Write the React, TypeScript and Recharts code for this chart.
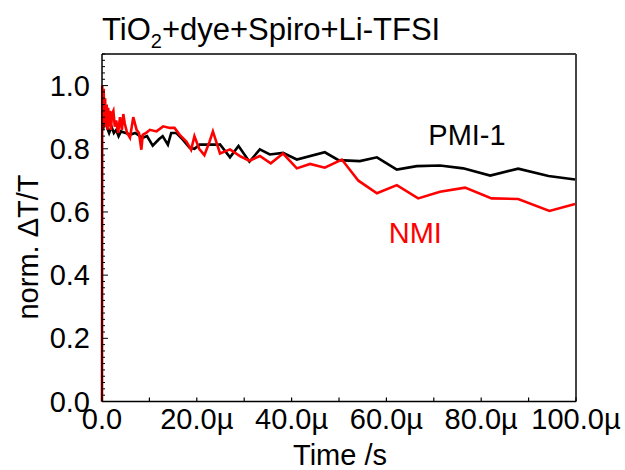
import { LineChart, Line, XAxis, YAxis, ReferenceLine, ReferenceDot, Label } from 'recharts';

// time in µs, normalised ΔT/T
const pmiTime = [0.2, 0.6, 1.0, 1.5, 2.0, 2.5, 3.0, 3.5, 4.0, 5.0, 6.0, 7.0, 8.0, 8.6, 9.5, 10.7, 12.0, 12.8, 13.9, 14.6, 15.7, 17.0, 18.5, 19.5, 20.6, 24.4, 24.9, 27.0, 28.8, 31.1, 33.3, 35.4, 38.2, 41.1, 47.0, 49.9, 54.4, 58.0, 62.2, 66.4, 71.3, 76.2, 81.9, 87.8, 94.2, 99.8];
const pmiValue = [0.86, 0.89, 0.87, 0.85, 0.87, 0.85, 0.86, 0.84, 0.855, 0.85, 0.845, 0.85, 0.84, 0.835, 0.84, 0.81, 0.83, 0.84, 0.813, 0.85, 0.85, 0.83, 0.803, 0.80, 0.813, 0.813, 0.814, 0.773, 0.809, 0.759, 0.798, 0.782, 0.787, 0.766, 0.789, 0.764, 0.761, 0.773, 0.734, 0.745, 0.747, 0.738, 0.715, 0.737, 0.714, 0.703];

const nmiTime = [0, 0.05, 0.2, 0.35, 0.5, 0.65, 0.8, 1.0, 1.15, 1.3, 1.5, 1.7, 1.9, 2.1, 2.4, 2.7, 3.0, 3.4, 3.8, 4.2, 4.5, 4.8, 5.3, 5.9, 6.6, 7.3, 7.8, 8.3, 8.6, 9.3, 10.1, 11.5, 12.9, 14.3, 15.3, 16.4, 17.8, 18.8, 19.5, 20.5, 21.6, 22.7, 23.4, 24.9, 27.0, 29.1, 31.1, 33.3, 35.6, 38.2, 41.1, 43.9, 47.0, 50.6, 54.1, 58.0, 62.2, 66.7, 71.3, 76.6, 82.2, 87.8, 94.4, 99.8];
const nmiValue = [0, 1.0, 0.9, 0.99, 0.88, 0.96, 0.87, 0.94, 0.86, 0.93, 0.87, 0.92, 0.86, 0.91, 0.92, 0.87, 0.89, 0.85, 0.9, 0.86, 0.91, 0.88, 0.85, 0.835, 0.9, 0.86, 0.85, 0.797, 0.844, 0.85, 0.86, 0.855, 0.871, 0.866, 0.866, 0.844, 0.823, 0.797, 0.84, 0.8, 0.78, 0.823, 0.855, 0.785, 0.798, 0.777, 0.762, 0.777, 0.754, 0.785, 0.738, 0.752, 0.74, 0.766, 0.699, 0.659, 0.685, 0.643, 0.664, 0.677, 0.643, 0.641, 0.603, 0.625];

const xTicks = [0, 10, 20, 30, 40, 50, 60, 70, 80, 90, 100];
const xLabels: Record<number, string> = { 0: '0.0', 20: '20.0µ', 40: '40.0µ', 60: '60.0µ', 80: '80.0µ', 100: '100.0µ' };
const yMajor = [0, 0.2, 0.4, 0.6, 0.8, 1.0];
const yTicks = Array.from({ length: 56 }, (_, i) => Math.round(i * 2) / 100);

const pmiData = pmiTime.map((t, i) => ({ t, v: pmiValue[i] }));
const nmiData = nmiTime.map((t, i) => ({ t, v: nmiValue[i] }));

const FONT = '"Liberation Sans", Arial, sans-serif';
const FS = 29;

const XTick = (props: any) => {
  const { x, y, payload } = props;
  const lab = xLabels[payload.value];
  return (
    <g>
      <line x1={x} x2={x} y1={y} y2={y - 4} stroke="#000" strokeWidth={1.2} />
      {lab && (
        <text x={x} y={y + 27} textAnchor="middle" fontSize={FS} fontFamily={FONT} fill="#000">{lab}</text>
      )}
    </g>
  );
};

const YTick = (props: any) => {
  const { x, y, payload } = props;
  const major = yMajor.some((m) => Math.abs(m - payload.value) < 1e-6);
  return (
    <g>
      <line x1={x} x2={x + (major ? 6 : 3)} y1={y} y2={y} stroke="#000" strokeWidth={1} />
      {major && (
        <text x={x - 12} y={y + 10} textAnchor="end" fontSize={FS} fontFamily={FONT} fill="#000">{payload.value.toFixed(1)}</text>
      )}
    </g>
  );
};

export default function App() {
  return (
    <div style={{ position: 'absolute', left: 0, top: 0, width: 625, height: 470, background: '#fff', fontFamily: FONT }}>
      <div style={{ position: 'absolute', left: 102, top: 15, fontSize: 31, lineHeight: '30px', color: '#000', whiteSpace: 'nowrap' }}>
        TiO<span style={{ fontSize: 20, position: 'relative', top: 8 }}>2</span>+dye+Spiro+Li-TFSI
      </div>
      <LineChart width={625} height={470} margin={{ top: 54, right: 49, bottom: 0, left: 0 }}>
        <XAxis
          dataKey="t"
          type="number"
          domain={[0, 100]}
          ticks={xTicks}
          interval={0}
          height={68.5}
          tickSize={0}
          tickMargin={0}
          tick={XTick}
          axisLine={{ stroke: '#000', strokeWidth: 1.5 }}
          allowDuplicatedCategory={false}
        >
          <Label
            content={() => (
              <text x={340} y={465} textAnchor="middle" fontSize={FS} fontFamily={FONT} fill="#000">Time /s</text>
            )}
          />
        </XAxis>
        <YAxis
          type="number"
          domain={[0, 1.1]}
          ticks={yTicks}
          interval={0}
          width={102}
          tickSize={0}
          tickMargin={0}
          tick={YTick}
          axisLine={{ stroke: '#000', strokeWidth: 1.5 }}
        >
          <Label
            content={() => (
              <text x={38} y={247} transform="rotate(-90, 38, 247)" textAnchor="middle" fontSize={FS} fontFamily={FONT} fill="#000">norm. ΔT/T</text>
            )}
          />
        </YAxis>
        <ReferenceLine y={1.1} stroke="#000" strokeWidth={1.5} />
        <ReferenceLine x={100} stroke="#444" strokeWidth={2} />
        <Line data={pmiData} dataKey="v" stroke="#000" strokeWidth={2.6} dot={false} isAnimationActive={false} />
        <Line data={nmiData} dataKey="v" stroke="#ff0000" strokeWidth={2.6} dot={false} isAnimationActive={false} />
        <ReferenceDot
          x={77}
          y={0.812}
          r={1}
          fill="none"
          stroke="none"
          label={{
            content: (p: any) => (
              <text x={p.viewBox.x + 1} y={p.viewBox.y + 1} textAnchor="middle" fontSize={FS} fontFamily={FONT} fill="#000">PMI-1</text>
            ),
          }}
        />
        <ReferenceDot
          x={66.1}
          y={0.502}
          r={1}
          fill="none"
          stroke="none"
          label={{
            content: (p: any) => (
              <text x={p.viewBox.x + 1} y={p.viewBox.y + 1} textAnchor="middle" fontSize={FS} fontFamily={FONT} fill="#ff0000">NMI</text>
            ),
          }}
        />
      </LineChart>
    </div>
  );
}
